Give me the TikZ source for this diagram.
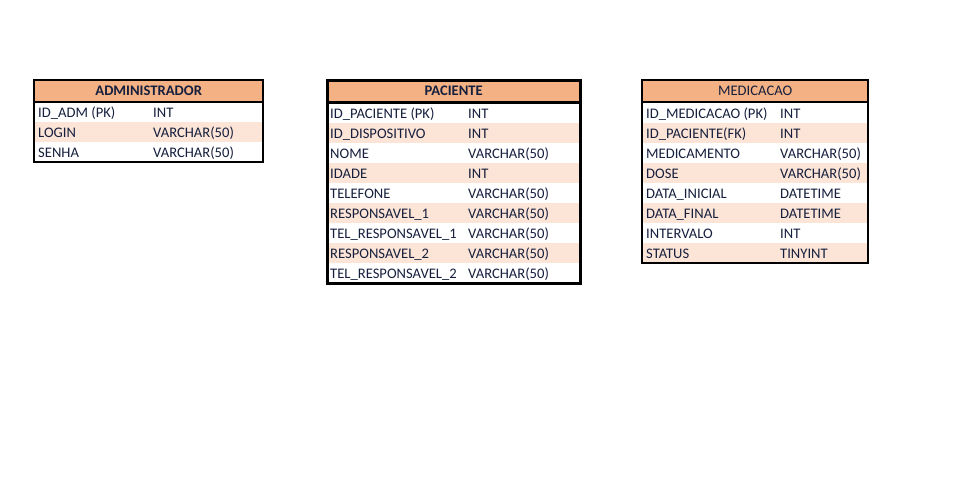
\documentclass[tikz,border=0pt]{standalone}
\usepackage{fontspec}
\setmainfont{Carlito}
\usepackage{tikz}
\usetikzlibrary{positioning}

\definecolor{headfill}{RGB}{244,177,131}
\definecolor{rowfill}{RGB}{252,228,214}
\definecolor{celltext}{RGB}{22,32,62}

\begin{document}
\begin{tikzpicture}[x=1pt, y=-1pt,
  header/.style={rectangle, fill=headfill, minimum height=22pt, inner sep=0pt,
    anchor=north west, text=celltext, text depth=0pt,
    font=\fontsize{14.6}{17}\selectfont\bfseries},
  row/.style={rectangle, minimum height=20pt, inner sep=0pt, anchor=north west},
  field/.style={anchor=base west, inner sep=0pt, text=celltext,
    font=\fontsize{14.6}{17}\selectfont},
  frame/.style={draw=black, line width=2pt}
]
  % Canvas
  \fill[white] (0,0) rectangle (954,482);
  \useasboundingbox (0,0) rectangle (954,482);

  % Administrador
  \node[header, minimum width=229pt] (adm) at (34,80) {ADMINISTRADOR};
  \foreach \f/\t [count=\i] in {{ID\_ADM (PK)}/{INT}, {LOGIN}/{VARCHAR(50)},
      {SENHA}/{VARCHAR(50)}} {
    \ifodd\i \def\rowcol{white}\else \def\rowcol{rowfill}\fi
    \node[row, minimum width=229pt, fill=\rowcol] (adm-r\i) at (34,{102+20*(\i-1)}) {};
    \node[field] (adm-f\i) at ([xshift=4pt, yshift=-5pt]adm-r\i.west) {\f};
    \node[field] (adm-t\i) at ([xshift=119pt, yshift=-5pt]adm-r\i.west) {\t};
  }
  \draw[frame] (adm.north west) rectangle (adm-r3.south east);
  \draw[frame] (adm.south west) -- (adm.south east);

  % Paciente
  \node[header, minimum width=253pt] (pac) at (327,80) {PACIENTE};
  \foreach \f/\t [count=\i] in {{ID\_PACIENTE (PK)}/{INT}, {ID\_DISPOSITIVO}/{INT},
      {NOME}/{VARCHAR(50)}, {IDADE}/{INT}, {TELEFONE}/{VARCHAR(50)},
      {RESPONSAVEL\_1}/{VARCHAR(50)}, {TEL\_RESPONSAVEL\_1}/{VARCHAR(50)},
      {RESPONSAVEL\_2}/{VARCHAR(50)}, {TEL\_RESPONSAVEL\_2}/{VARCHAR(50)}} {
    \ifodd\i \def\rowcol{white}\else \def\rowcol{rowfill}\fi
    \node[row, minimum width=253pt, fill=\rowcol] (pac-r\i) at (327,{103+20*(\i-1)}) {};
    \node[field] (pac-f\i) at ([xshift=3pt, yshift=-5pt]pac-r\i.west) {\f};
    \node[field] (pac-t\i) at ([xshift=141pt, yshift=-5pt]pac-r\i.west) {\t};
  }
  \draw[frame, line width=3pt] (pac.north west) rectangle (pac-r9.south east);
  \draw[frame, line width=2.5pt] (pac.south west) -- (pac.south east);

  % Medicacao
  \node[header, minimum width=226pt, font=\fontsize{14.6}{17}\selectfont] (med) at (642,80) {MEDICACAO};
  \foreach \f/\t [count=\i] in {{ID\_MEDICACAO (PK)}/{INT}, {ID\_PACIENTE(FK)}/{INT},
      {MEDICAMENTO}/{VARCHAR(50)}, {DOSE}/{VARCHAR(50)}, {DATA\_INICIAL}/{DATETIME},
      {DATA\_FINAL}/{DATETIME}, {INTERVALO}/{INT}, {STATUS}/{TINYINT}} {
    \ifodd\i \def\rowcol{white}\else \def\rowcol{rowfill}\fi
    \node[row, minimum width=226pt, fill=\rowcol] (med-r\i) at (642,{103+20*(\i-1)}) {};
    \node[field] (med-f\i) at ([xshift=4pt, yshift=-5pt]med-r\i.west) {\f};
    \node[field] (med-t\i) at ([xshift=138pt, yshift=-5pt]med-r\i.west) {\t};
  }
  \draw[frame] (med.north west) rectangle (med-r8.south east);
  \draw[frame] (med.south west) -- (med.south east);
\end{tikzpicture}
\end{document}
